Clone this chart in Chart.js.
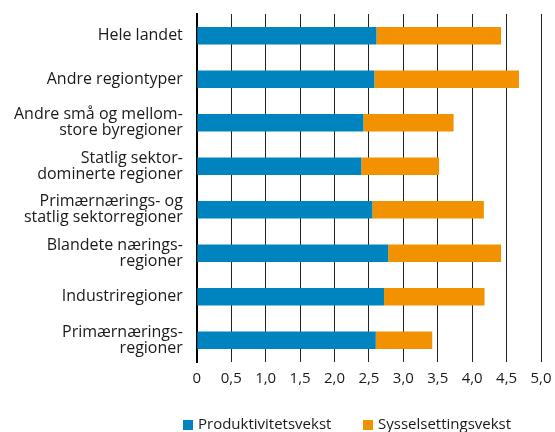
<!DOCTYPE html>
<html lang="no">
<head>
    <meta charset="UTF-8">
    <title>Produktivitets- og sysselsettingsvekst etter regiontype</title>
    <script src="https://cdn.jsdelivr.net/npm/chart.js"></script>
    <style>
        body {
            margin: 0;
            padding: 0;
            background: #ffffff;
            font-family: 'Open Sans', sans-serif;
        }

        .wrap {
            position: relative;
            width: 555px;
            height: 432px;
        }

        /* Legend under the chart */
        .legend {
            position: absolute;
            top: 413px;
            left: 183px;
            font-size: 15px;
            color: #1a1a1a;
            white-space: nowrap;
        }

        .legend span {
            position: absolute;
            top: 0;
            line-height: 20px;
        }

        .legend i {
            display: inline-block;
            width: 10px;
            height: 10px;
            margin-right: 5px;
            vertical-align: -1px;
        }
    </style>
</head>
<body>
    <div class="wrap">
        <canvas id="vekstChart"></canvas>
        <div class="legend">
            <span style="left:0"><i style="background:#0084bf"></i>Produktivitetsvekst</span>
            <span style="left:180px"><i style="background:#f39200"></i>Sysselsettingsvekst</span>
        </div>
    </div>

    <script>
        const regioner = [
            "Hele landet",
            "Andre regiontyper",
            ["Andre små og mellom-", "store byregioner"],
            ["Statlig sektor-", "dominerte regioner"],
            ["Primærnærings- og", "statlig sektorregioner"],
            ["Blandete nærings-", "regioner"],
            "Industriregioner",
            ["Primærnærings-", "regioner"]
        ];
        const produktivitet = [2.61, 2.58, 2.42, 2.39, 2.55, 2.78, 2.72, 2.60];
        const sysselsetting = [1.81, 2.10, 1.31, 1.13, 1.62, 1.64, 1.46, 0.82];

        Chart.defaults.font.family = "'Open Sans', sans-serif";
        Chart.defaults.font.size = 15;
        Chart.defaults.color = "#1a1a1a";

        const ctx = document.getElementById("vekstChart").getContext("2d");
        new Chart(ctx, {
            type: "bar",
            data: {
                labels: regioner,
                datasets: [
                    {
                        label: "Produktivitetsvekst",
                        data: produktivitet,
                        backgroundColor: "#0084bf",
                        barPercentage: 0.4,
                        categoryPercentage: 1
                    },
                    {
                        label: "Sysselsettingsvekst",
                        data: sysselsetting,
                        backgroundColor: "#f39200",
                        barPercentage: 0.4,
                        categoryPercentage: 1
                    }
                ]
            },
            options: {
                indexAxis: "y",
                responsive: true,
                maintainAspectRatio: false,
                animation: false,
                layout: {
                    padding: { top: 14, right: 14, bottom: 36, left: 0 }
                },
                plugins: {
                    legend: { display: false },
                    tooltip: { enabled: false }
                },
                scales: {
                    x: {
                        stacked: true,
                        min: 0,
                        max: 5,
                        ticks: {
                            stepSize: 0.5,
                            padding: 8,
                            callback: v => v === 0 ? "0" : v.toFixed(1).replace(".", ",")
                        },
                        grid: {
                            color: "#222",
                            lineWidth: 1,
                            drawTicks: false
                        },
                        border: { display: false },
                        // the "5,0" label may hang over the right edge
                        afterFit: scale => {
                            scale.paddingRight = 0;
                        }
                    },
                    y: {
                        stacked: true,
                        ticks: {
                            padding: 14,
                            font: { size: 16, lineHeight: 0.98 }
                        },
                        grid: { display: false, drawTicks: false },
                        border: { color: "#000", width: 2 },
                        // labels sit inside their bands, so no extra room above/below
                        afterFit: scale => {
                            scale.paddingTop = 0;
                            scale.paddingBottom = 0;
                        }
                    }
                }
            }
        });
    </script>
</body>
</html>
